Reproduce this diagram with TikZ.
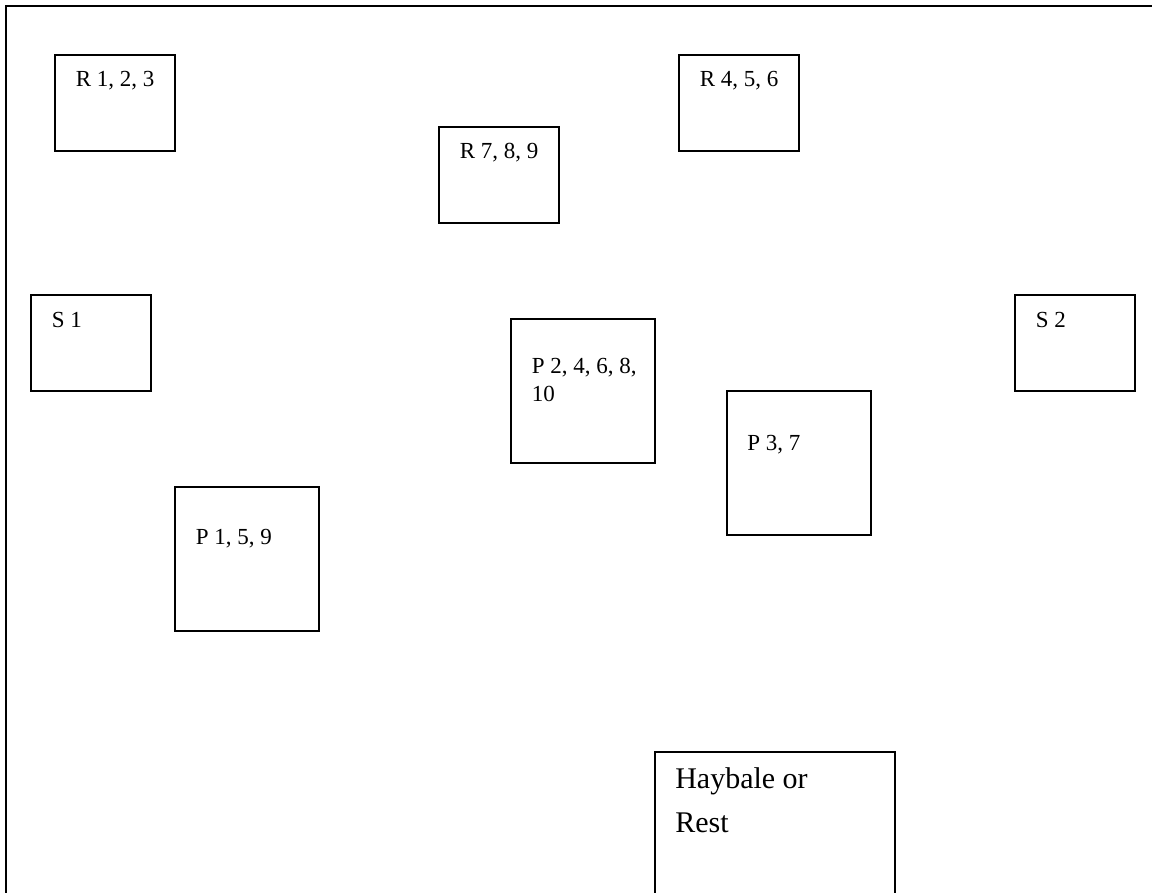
\documentclass[tikz,border=0pt]{standalone}
\usepackage{fontspec}
\setmainfont{Liberation Serif}
\usetikzlibrary{calc}
\tikzset{
  box/.style={draw=black, line width=1.3pt, rectangle, anchor=north west, inner sep=0pt, fill=white},
  rbox/.style={box, minimum width=90pt, minimum height=72pt},
  pbox/.style={box, minimum width=108pt, minimum height=108pt},
  hbox/.style={box, minimum width=180pt, minimum height=150pt},
  lbl/.style={anchor=base west, inner sep=0pt, font=\fontsize{17.25}{21.3}\selectfont, align=left},
  biglbl/.style={anchor=base west, inner sep=0pt, font=\fontsize{22.5}{33}\selectfont, align=left},
  frame/.style={draw=black, line width=1.8pt}
}
\begin{document}
\begin{tikzpicture}[x=0.75pt, y=-0.75pt]
\path[use as bounding box, clip] (0,0) rectangle (1152,892);
\fill[white] (0,0) rectangle (1152,892);
\coordinate (fnw) at (6,6);
\coordinate (fse) at (1200,950);
\draw[frame] (fnw) rectangle (fse);

\node[rbox] (r123) at (54,54) {};
\node[lbl] (r123t) at ($(r123.north west)+(21.5,32.5)$) {R 1, 2, 3};

\node[rbox] (r456) at (678,54) {};
\node[lbl] (r456t) at ($(r456.north west)+(21.5,32.5)$) {R 4, 5, 6};

\node[rbox] (r789) at (438,126) {};
\node[lbl] (r789t) at ($(r789.north west)+(21.5,32.5)$) {R 7, 8, 9};

\node[rbox] (s1) at (30,294) {};
\node[lbl] (s1t) at ($(s1.north west)+(21.5,33)$) {S 1};

\node[rbox] (s2) at (1014,294) {};
\node[lbl] (s2t) at ($(s2.north west)+(21.5,33)$) {S 2};

\node[pbox] (p246) at (510,318) {};
\node[lbl] (p246t) at ($(p246.north west)+(21.5,55)$) {P 2, 4, 6, 8,};
\node[lbl] (p246u) at ($(p246.north west)+(21.5,83.5)$) {10};

\node[pbox] (p37) at (726,390) {};
\node[lbl] (p37t) at ($(p37.north west)+(21,60)$) {P 3, 7};

\node[pbox] (p159) at (174,486) {};
\node[lbl] (p159t) at ($(p159.north west)+(21.5,58)$) {P 1, 5, 9};

\node[hbox] (hay) at (654,751) {};
\node[biglbl] (hayt) at ($(hay.north west)+(21,37)$) {Haybale or};
\node[biglbl] (hayu) at ($(hay.north west)+(21,81)$) {Rest};
\end{tikzpicture}
\end{document}
